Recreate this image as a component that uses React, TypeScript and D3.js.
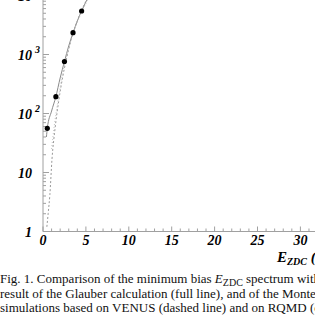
import React, { useEffect, useRef } from "react";
import * as d3 from "d3";

// measured spectrum (points)
const energy = [0.5, 1.5, 2.5, 3.5, 4.5, 5.5];
const events = [56, 193, 760, 2340, 5460, 11000];

// Glauber calculation (full line)
const glauberE = [0.4, 0.5, 1.0, 1.5, 2.0, 2.5, 3.0, 3.5, 4.0, 4.5, 5.0, 5.5, 6.0];
const glauberN = [40, 56, 110, 193, 400, 760, 1400, 2340, 3700, 5460, 7800, 11000, 15000];

// VENUS (dashed line)
const venusE = [0.45, 0.6, 0.8, 1.05, 1.4, 1.85, 2.3, 2.7, 3.2, 3.7, 4.3, 5.0, 5.8];
const venusN = [1.2, 2, 4.2, 17, 55, 170, 420, 800, 1600, 2800, 4800, 8000, 13000];

// RQMD (dotted line)
const rqmdE = [1.0, 1.3, 1.7, 2.2, 2.8, 3.4, 4.1, 4.9, 5.7];
const rqmdN = [25, 60, 150, 420, 1000, 2000, 3800, 6800, 12000];

const xTicks = [0, 5, 10, 15, 20, 25, 30];
const yTicks = [1, 10, 100, 1000, 10000];
const yTickText = ["1", "10", "10", "10", "10"];
const yTickExp = ["", "", "2", "3", "4"];

const captionLines = [
  ["Fig. 1. Comparison of the minimum bias ", "E", "ZDC", " spectrum with the"],
  ["result of the Glauber calculation (full line), and of the Monte Carlo"],
  ["simulations based on VENUS (dashed line) and on RQMD (dotted line)"],
];

export default function App() {
  const ref = useRef<SVGSVGElement | null>(null);

  useEffect(() => {
    const svg = d3.select(ref.current);
    svg.selectAll("*").remove();

    const x0 = 43;
    const y0 = 231.5;
    const decade = 59;
    const xScale = d3.scaleLinear().domain([0, 35]).range([x0, x0 + 35 * 8.58]);
    const yScale = d3.scaleLog().domain([1, 10000]).range([y0, y0 - 4 * decade]);

    const axisColor = "#a0a0a0";
    const font = "'Liberation Serif', 'Times New Roman', serif";

    // axes lines
    svg.append("line")
      .attr("x1", x0).attr("x2", x0)
      .attr("y1", y0).attr("y2", yScale(10000) - 10)
      .attr("stroke", axisColor).attr("stroke-width", 1);
    svg.append("line")
      .attr("x1", x0).attr("x2", 320)
      .attr("y1", y0).attr("y2", y0)
      .attr("stroke", axisColor).attr("stroke-width", 1);

    // x ticks, one per unit, longer every 5
    d3.range(0, 33).forEach((v) => {
      const big = v % 5 === 0;
      svg.append("line")
        .attr("x1", xScale(v)).attr("x2", xScale(v))
        .attr("y1", y0).attr("y2", y0 - (big ? 5 : 3))
        .attr("stroke", axisColor);
    });

    // y ticks, log minors
    const minors: number[] = [];
    [1, 10, 100, 1000, 10000].forEach((d) => {
      for (let k = 1; k <= 9; k++) minors.push(d * k);
    });
    minors.forEach((v) => {
      const big = yTicks.includes(v);
      svg.append("line")
        .attr("x1", x0).attr("x2", x0 + (big ? 6 : 3))
        .attr("y1", yScale(v)).attr("y2", yScale(v))
        .attr("stroke", axisColor);
    });

    // x labels
    svg.selectAll("text.xl")
      .data(xTicks)
      .join("text")
      .attr("class", "xl")
      .attr("x", (d) => xScale(d))
      .attr("y", 245)
      .attr("text-anchor", "middle")
      .style("font-family", font)
      .style("font-size", "14px")
      .style("font-weight", "bold")
      .style("font-style", "italic")
      .text((d) => d);

    // y labels
    yTicks.forEach((v, i) => {
      svg.append("text")
        .attr("x", 32)
        .attr("y", yScale(v) + 5)
        .attr("text-anchor", "end")
        .style("font-family", font)
        .style("font-size", "14px")
        .style("font-weight", "bold")
        .style("font-style", "italic")
        .text(yTickText[i]);
      if (yTickExp[i]) {
        svg.append("text")
          .attr("x", 35)
          .attr("y", yScale(v) - 2)
          .style("font-family", font)
          .style("font-size", "10px")
          .style("font-weight", "bold")
          .style("font-style", "italic")
          .text(yTickExp[i]);
      }
    });

    // x axis title
    const title = svg.append("text")
      .attr("x", 277)
      .attr("y", 262)
      .style("font-family", font)
      .style("font-size", "15px")
      .style("font-weight", "bold")
      .style("font-style", "italic");
    title.append("tspan").text("E");
    title.append("tspan").attr("dy", 3).style("font-size", "10px").text("ZDC");
    title.append("tspan").attr("dy", -3).text(" (GeV)");

    // curves
    const line = d3.line<[number, number]>()
      .x((d) => xScale(d[0]))
      .y((d) => yScale(d[1]))
      .curve(d3.curveMonotoneX);

    svg.append("path")
      .attr("d", line(glauberE.map((e, i) => [e, glauberN[i]]) as [number, number][]))
      .attr("fill", "none")
      .attr("stroke", "#8a8a8a")
      .attr("stroke-width", 1);

    svg.append("path")
      .attr("d", line(venusE.map((e, i) => [e, venusN[i]]) as [number, number][]))
      .attr("fill", "none")
      .attr("stroke", "#999")
      .attr("stroke-width", 1)
      .attr("stroke-dasharray", "2,2");

    svg.append("path")
      .attr("d", line(rqmdE.map((e, i) => [e, rqmdN[i]]) as [number, number][]))
      .attr("fill", "none")
      .attr("stroke", "#c4c4c4")
      .attr("stroke-width", 1)
      .attr("stroke-dasharray", "1,2");

    // data points
    svg.selectAll("circle")
      .data(energy)
      .join("circle")
      .attr("cx", (d) => xScale(d))
      .attr("cy", (d, i) => yScale(events[i]))
      .attr("r", 2.6)
      .attr("fill", "#000");

    // caption
    captionLines.forEach((parts, li) => {
      const t = svg.append("text")
        .attr("x", 0)
        .attr("y", 283 + li * 14.5)
        .style("font-family", font)
        .style("font-size", "13px")
        .attr("fill", "#111");
      if (parts.length > 1) {
        t.append("tspan").text(parts[0]);
        t.append("tspan").style("font-style", "italic").text(parts[1]);
        t.append("tspan").attr("dy", 2.5).style("font-size", "10px").text(parts[2]);
        t.append("tspan").attr("dy", -2.5).text(parts[3]);
      } else {
        t.text(parts[0]);
      }
    });
  }, []);

  return (
    <svg
      ref={ref}
      width={315}
      height={319}
      style={{ position: "absolute", left: 0, top: 0, background: "#fff" }}
    />
  );
}
